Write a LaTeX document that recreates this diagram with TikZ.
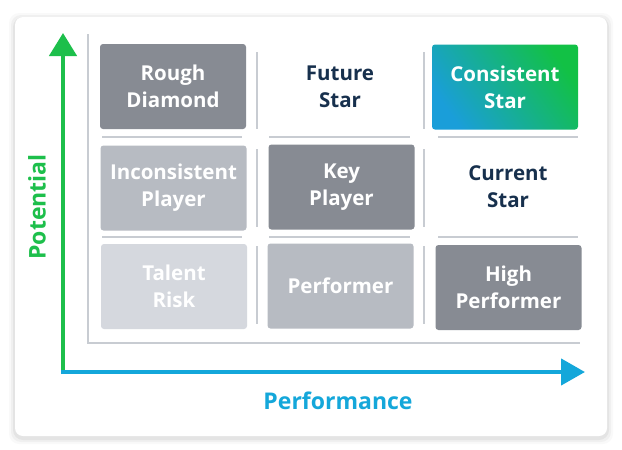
\documentclass[tikz,border=0pt]{standalone}
\usepackage{fontspec}
\setmainfont{Open Sans}
\usetikzlibrary{arrows.meta}
\definecolor{darkbox}{HTML}{878B93}
\definecolor{midbox}{HTML}{B7BBC2}
\definecolor{lightbox}{HTML}{D5D8DE}
\definecolor{sepgray}{HTML}{C8CCD2}
\definecolor{navy}{HTML}{17304D}
\definecolor{axgreen}{HTML}{1DBF4B}
\definecolor{axblue}{HTML}{14A7DA}
\definecolor{gblue}{HTML}{1A9ED9}
\definecolor{gteal}{HTML}{0FB3A6}
\definecolor{ggreen}{HTML}{12C145}
\tikzset{
  cell/.style={rounded corners=3pt, minimum width=146pt, minimum height=85pt, inner sep=0pt,
    text=white, align=center, font=\fontsize{20.5}{27}\selectfont\bfseries},
  plain/.style={align=center, text=navy, font=\fontsize{20.5}{27}\selectfont\bfseries},
  sep/.style={draw=sepgray, line width=2.5pt},
  frame/.style={draw=sepgray, line width=2pt},
  axlabel/.style={font=\fontsize{23}{27}\selectfont\bfseries},
}
\begin{document}
\begin{tikzpicture}[x=1pt,y=-1pt]
\useasboundingbox (0,0) rectangle (622,450);
% card with soft shadow
\foreach \o/\a in {6/0.025,4/0.035,2/0.05}{
  \fill[black,opacity=\a,rounded corners=10pt] (15-\o,17-\o+2) rectangle (607+\o,436+\o+2);
}
\fill[white,rounded corners=8pt] (15,17) rectangle (607,436);
% frame
\draw[frame] (88,34) -- (88,343) -- (580,343);
% separators
\foreach \x in {257,424}{
  \draw[sep] (\x,52) -- (\x,129);
  \draw[sep] (\x,149) -- (\x,227);
  \draw[sep] (\x,246) -- (\x,324);
}
\foreach \y in {137,237}{
  \draw[sep] (102,\y) -- (242,\y);
  \draw[sep] (269,\y) -- (410,\y);
  \draw[sep] (438,\y) -- (578,\y);
}
% cells
\node[cell, fill=darkbox] (rd) at (173,86.5) {Rough\\Diamond};
\node[plain] (fs) at (340,87) {Future\\Star};
\node[cell, left color=gblue, middle color=gteal, right color=ggreen, shading angle=125] (cs) at (505,87) {Consistent\\Star};
\node[cell, fill=midbox] (ip) at (173.5,188) {Inconsistent\\Player};
\node[cell, fill=darkbox] (kp) at (341.5,187) {Key\\Player};
\node[plain] (cur) at (508,187) {Current\\Star};
\node[cell, fill=lightbox] (tr) at (174,286.5) {Talent\\Risk};
\node[cell, fill=midbox] (pf) at (340.5,286) {Performer};
\node[cell, fill=darkbox] (hp) at (508.5,287.5) {High\\Performer};
% axes
\coordinate (ytop) at (63,33);
\coordinate (xend) at (585,372);
\draw[axgreen, line width=4.5pt, -{Triangle[width=27pt,length=23pt]}] (63,374) -- (ytop);
\draw[axblue, line width=4.5pt, -{Triangle[width=26pt,length=24pt]}] (61,372) -- (xend);
\node[text=axgreen, rotate=90, axlabel] (pot) at (37,207) {Potential};
\node[text=axblue, axlabel] (perf) at (338,401) {Performance};
\end{tikzpicture}
\end{document}
